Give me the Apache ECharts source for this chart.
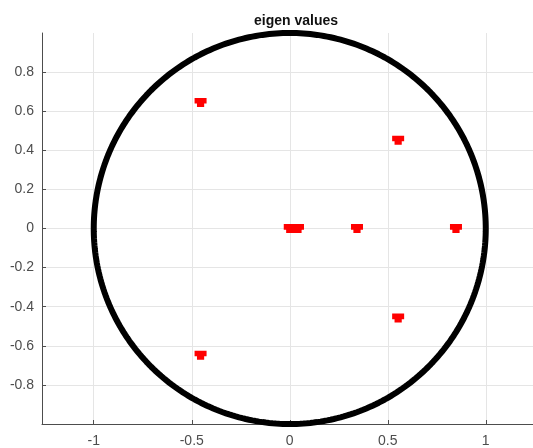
<!DOCTYPE html>
<html>
<head>
<meta charset="utf-8">
<script src="https://cdn.jsdelivr.net/npm/echarts@6/dist/echarts.min.js"></script>
<style>
  html, body { margin: 0; padding: 0; background: #fff; }
  #chart { width: 533px; height: 448px; }
</style>
</head>
<body>
<div id="chart"></div>
<script>
// Eigenvalues on the complex plane (real part, imaginary part)
const realParts = [-0.455, -0.455, 0.553, 0.553, 0.848, 0.343, 0.0, 0.015, 0.03, 0.042];
const imagParts = [0.645, -0.648, 0.452, -0.458, 0.0, 0.0, 0.0, 0.0, 0.0, 0.0];

// Tick labels
const xTicks = [-1, -0.5, 0, 0.5, 1];
const yTicks = [-0.8, -0.6, -0.4, -0.2, 0, 0.2, 0.4, 0.6, 0.8];

// Unit circle reference
const circleRadius = 1;
const circleSteps = 360;
const circlePts = [];
for (let i = 0; i <= circleSteps; i++) {
  const t = (i / circleSteps) * 2 * Math.PI;
  circlePts.push([circleRadius * Math.cos(t), circleRadius * Math.sin(t)]);
}

const eigPts = realParts.map((re, i) => [re, imagParts[i]]);

const chart = echarts.init(document.getElementById('chart'), null, { renderer: 'canvas' });

const axisColor = '#4d4d4d';
const labelStyle = { color: '#4d4d4d', fontSize: 14, fontFamily: 'Liberation Sans, Arial, sans-serif' };

chart.setOption({
  animation: false,
  title: {
    text: 'eigen values',
    left: 291,
    textAlign: 'center',
    top: 9,
    textStyle: { fontSize: 14, fontWeight: 'bold', color: '#111', fontFamily: 'Liberation Sans, Arial, sans-serif' }
  },
  grid: { left: 42, right: 0, top: 33, bottom: 24, containLabel: false },
  xAxis: {
    type: 'value',
    min: -1.264,
    max: 1.241,
    axisLine: { show: true, onZero: false, lineStyle: { color: axisColor, width: 1 } },
    axisTick: { show: true, inside: true, length: 4, customValues: xTicks, lineStyle: { color: axisColor } },
    axisLabel: { show: true, customValues: xTicks, margin: 10, ...labelStyle },
    splitLine: { show: true, lineStyle: { color: '#e5e5e5', width: 1 } }
  },
  yAxis: {
    type: 'value',
    min: -1,
    max: 1,
    axisLine: { show: true, onZero: false, lineStyle: { color: axisColor, width: 1 } },
    axisTick: { show: true, inside: true, length: 4, customValues: yTicks, lineStyle: { color: axisColor } },
    axisLabel: { show: true, customValues: yTicks, margin: 8, ...labelStyle },
    splitLine: { show: true, lineStyle: { color: '#e5e5e5', width: 1 } }
  },
  series: [
    {
      name: 'unit circle',
      type: 'line',
      data: circlePts,
      showSymbol: false,
      symbol: 'none',
      lineStyle: { color: '#000', width: 6 },
      z: 2
    },
    {
      name: 'eigenvalues',
      type: 'scatter',
      data: eigPts,
      symbol: 'path://M0,0 L10,0 L10,5 L8,5 L8,8 L2,8 L2,5 L0,5 Z',
      symbolSize: [12, 9],
      itemStyle: { color: '#ff0000', opacity: 1 },
      z: 3
    }
  ]
});
</script>
</body>
</html>
